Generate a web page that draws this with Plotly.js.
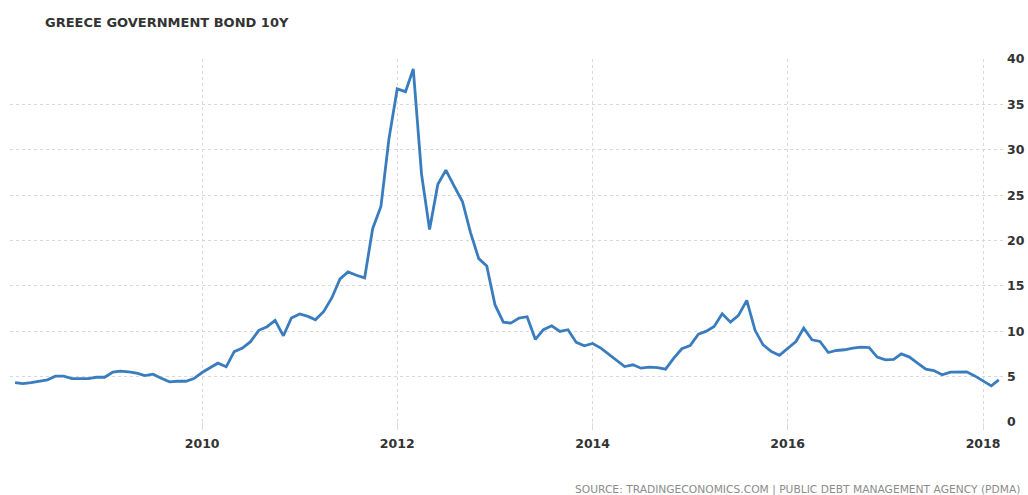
<!DOCTYPE html>
<html>
<head>
<meta charset="utf-8">
<script src="https://cdn.plot.ly/plotly-3.0.1.min.js"></script>
<style>html,body{margin:0;padding:0;background:#fff;}#chart{width:1028px;height:495px;}</style>
</head>
<body>
<div id="chart"></div>
<script>
// Monthly 10Y Greek bond yield, Feb 2008 .. Mar 2018
const startYear = 2008;
const startMonth = 2;
const yields = [
  // 2008 Feb-Dec
  4.35, 4.23, 4.35, 4.50, 4.64, 5.05, 5.05, 4.79, 4.75, 4.79, 4.93,
  // 2009
  4.93, 5.49, 5.60, 5.53, 5.38, 5.12, 5.27, 4.82, 4.42, 4.49, 4.49, 4.79,
  // 2010
  5.45, 6.00, 6.48, 6.08, 7.75, 8.15, 8.85, 10.10, 10.50, 11.20, 9.50, 11.46,
  // 2011
  11.90, 11.64, 11.27, 12.19, 13.67, 15.77, 16.54, 16.17, 15.88, 21.30, 23.75, 31.20,
  // 2012
  36.70, 36.40, 38.90, 27.30, 21.20, 26.20, 27.75, 26.00, 24.30, 20.90, 18.00, 17.20,
  // 2013
  12.90, 11.00, 10.90, 11.46, 11.60, 9.10, 10.17, 10.60, 9.98, 10.17, 8.77, 8.40,
  // 2014
  8.65, 8.14, 7.50, 6.85, 6.11, 6.30, 5.93, 6.04, 6.00, 5.82, 7.04, 8.07,
  // 2015
  8.43, 9.69, 9.98, 10.53, 11.93, 11.00, 11.75, 13.40, 10.10, 8.50, 7.77, 7.35,
  // 2016
  8.14, 8.87, 10.35, 9.06, 8.87, 7.66, 7.88, 7.96, 8.14, 8.25, 8.20, 7.15,
  // 2017
  6.85, 6.90, 7.50, 7.15, 6.48, 5.82, 5.67, 5.20, 5.49, 5.49, 5.53, 5.08,
  // 2018 Jan-Mar
  4.53, 3.98, 4.64
];
const xTickVals = ['2010-01-01', '2012-01-01', '2014-01-01', '2016-01-01', '2018-01-01'];
const xTickText = ['2010', '2012', '2014', '2016', '2018'];
const yTickVals = [0, 5, 10, 15, 20, 25, 30, 35, 40];
const titleText = 'GREECE GOVERNMENT BOND 10Y';
const sourceText = 'SOURCE: TRADINGECONOMICS.COM | PUBLIC DEBT MANAGEMENT AGENCY (PDMA)';

function pad(n){ return (n < 10 ? '0' : '') + n; }
const dates = yields.map((v, i) => {
  const m0 = (startMonth - 1) + i;
  const y = startYear + Math.floor(m0 / 12);
  const m = (m0 % 12) + 1;
  return y + '-' + pad(m) + '-01';
});

const trace = {
  x: dates,
  y: yields,
  type: 'scatter',
  mode: 'lines',
  line: { color: '#3a7dbf', width: 2.8 },
  hoverinfo: 'x+y'
};

const tickFont = { family: 'DejaVu Sans', size: 12.5, color: '#333', weight: 'bold' };

const layout = {
  width: 1028,
  height: 495,
  paper_bgcolor: '#ffffff',
  plot_bgcolor: '#ffffff',
  showlegend: false,
  margin: { l: 10, r: 22, t: 59, b: 73 },
  title: {
    text: '<b>' + titleText + '</b>',
    font: { family: 'DejaVu Sans', size: 13, color: '#333' },
    x: 45 / 1028,
    xanchor: 'left',
    xref: 'container',
    y: 1 - 22.5 / 495,
    yanchor: 'middle',
    yref: 'container'
  },
  xaxis: {
    type: 'date',
    range: ['2008-01-13', '2018-03-28'],
    tickvals: xTickVals,
    ticktext: xTickText,
    tickfont: tickFont,
    ticks: 'outside',
    ticklen: 7,
    tickcolor: '#dcdcdc',
    tickwidth: 1,
    showgrid: true,
    gridcolor: '#d9d9d9',
    griddash: 'dot',
    gridwidth: 1,
    showline: false,
    zeroline: false,
    ticklabelstandoff: 3
  },
  yaxis: {
    side: 'right',
    range: [0, 40],
    tickvals: yTickVals,
    tickfont: tickFont,
    ticks: '',
    showgrid: true,
    gridcolor: '#d9d9d9',
    griddash: 'dot',
    gridwidth: 1,
    showline: false,
    zeroline: false,
    ticklabelstandoff: 0
  },
  annotations: [{
    text: sourceText,
    xref: 'paper',
    yref: 'paper',
    x: (1022 - 10) / 996,
    xanchor: 'right',
    y: (421.7 - 489) / 362.4,
    yanchor: 'middle',
    showarrow: false,
    font: { family: 'DejaVu Sans', size: 10.7, color: '#8c8c8c' }
  }]
};

Plotly.newPlot('chart', [trace], layout, { displayModeBar: false, staticPlot: true });
</script>
</body>
</html>
